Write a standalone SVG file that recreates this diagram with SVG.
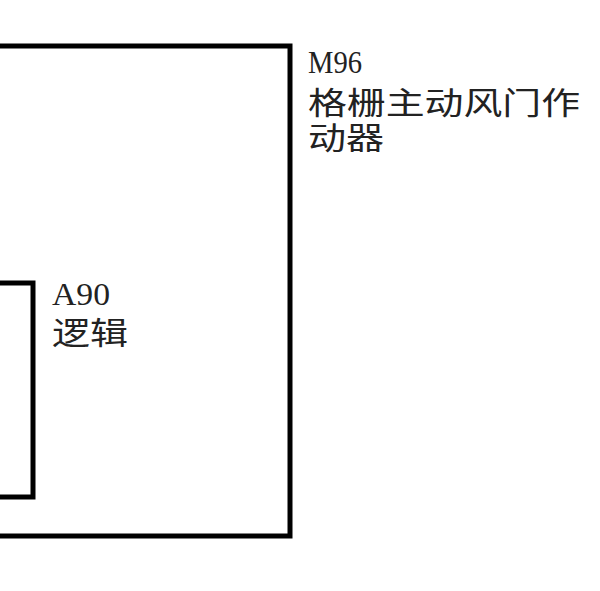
<svg xmlns="http://www.w3.org/2000/svg" width="600" height="591" viewBox="0 0 600 591">
<style>
.box{fill:none;stroke:#000;stroke-width:5}
.lbl{font-family:"Liberation Serif","Noto Sans CJK SC",serif;font-size:32px;fill:#222}
.cjk{font-family:"Noto Sans CJK SC",sans-serif;font-size:31px;fill:#222}
</style>
<rect width="600" height="591" fill="#fff"/>
<g id="M96">
<rect class="box" x="-10" y="46" width="300" height="490"/>
<text class="lbl" x="308" y="73" textLength="54" lengthAdjust="spacingAndGlyphs">M96</text>
<text class="cjk" x="308" y="114" textLength="272" lengthAdjust="spacingAndGlyphs">格栅主动风门作</text>
<text class="cjk" x="308" y="149" textLength="76" lengthAdjust="spacingAndGlyphs">动器</text>
</g>
<g id="A90">
<rect class="box" x="-10" y="283" width="43" height="214"/>
<text class="lbl" x="52" y="305" textLength="58" lengthAdjust="spacingAndGlyphs">A90</text>
<text class="cjk" x="52" y="344" textLength="76" lengthAdjust="spacingAndGlyphs">逻辑</text>
</g>
<g id="connectors"></g>
</svg>
